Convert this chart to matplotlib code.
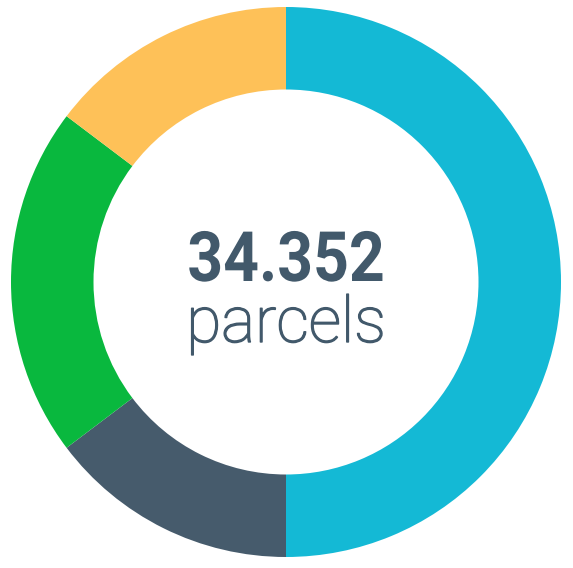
import matplotlib.pyplot as plt
import matplotlib.patheffects as pe
from matplotlib.patheffects import AbstractPathEffect
from matplotlib.transforms import Affine2D

labels = ["A", "B", "C", "D"]
shares = [50.0, 14.7, 20.6, 14.7]
colors = ["#14B9D5", "#465B6C", "#09B83E", "#FEC158"]
total_text = "34.352"
unit_text = "parcels"


class Squeeze(AbstractPathEffect):
    # narrow the glyphs horizontally around a display x position (condensed look)
    def __init__(self, sx, x0):
        super().__init__()
        self.sx = sx
        self.x0 = x0

    def draw_path(self, renderer, gc, tpath, affine, rgbFace=None):
        t = affine + Affine2D().translate(-self.x0, 0).scale(self.sx, 1).translate(self.x0, 0)
        renderer.draw_path(gc, tpath, t, rgbFace)


fig = plt.figure(figsize=(5.73, 5.68), dpi=100)
ax = fig.add_axes([0, 0, 1, 1])

R = 275.0  # outer radius in px
cx, cy = 286.0, 282.0  # centre in px (y from top)

ax.pie(shares, colors=colors, startangle=90, counterclock=False, radius=1,
       wedgeprops=dict(width=0.3, linewidth=0))

ax.set_xlim(-cx / R, (573 - cx) / R)
ax.set_ylim(-(568 - cy) / R, cy / R)
ax.set_aspect('auto')
ax.axis('off')

txt_color = "#42596B"
ax.text(0, (cy - 281) / R, total_text, ha='center', va='baseline',
        fontsize=50, fontweight='bold', family='Roboto', color=txt_color,
        path_effects=[Squeeze(0.9, cx)])
ax.text(0, (cy - 342) / R, unit_text, ha='center', va='baseline',
        fontsize=46, fontweight='light', family='Roboto', color=txt_color,
        path_effects=[pe.withStroke(linewidth=1.0, foreground=txt_color)])

plt.savefig("out.png", dpi=100)
